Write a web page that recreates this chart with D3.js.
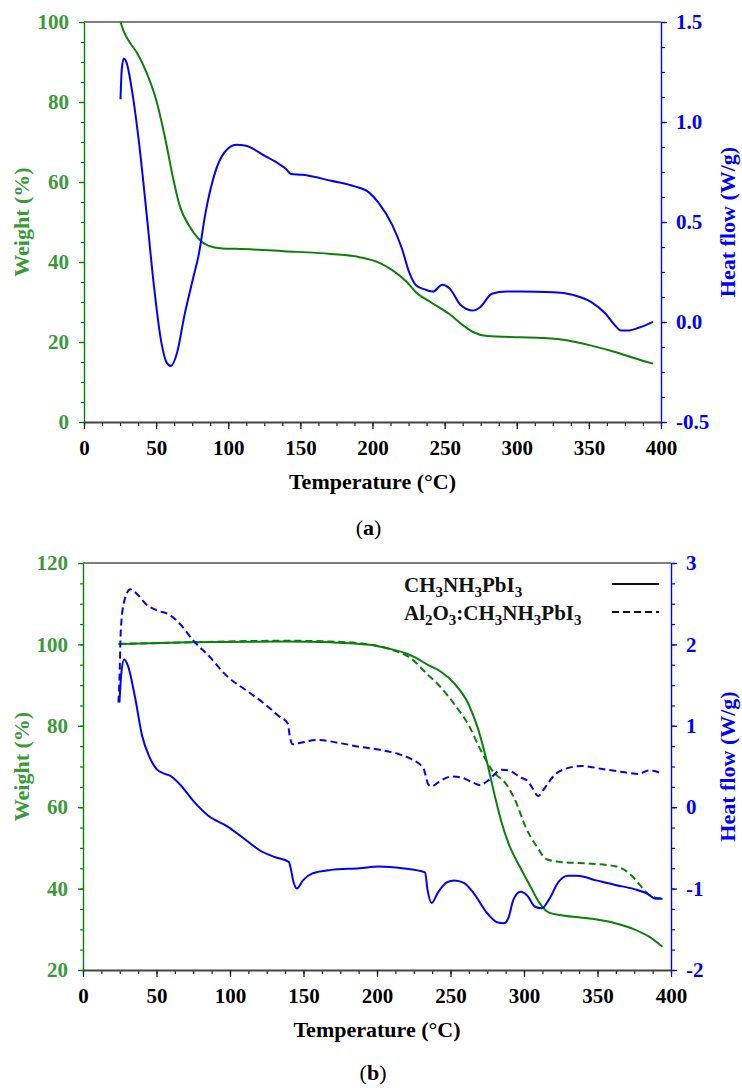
<!DOCTYPE html>
<html>
<head>
<meta charset="utf-8">
<script src="https://cdn.jsdelivr.net/npm/d3@7"></script>
<style>
  html, body { margin: 0; padding: 0; background: #fff; }
  svg text { font-family: "Liberation Serif", "DejaVu Serif", serif; }
</style>
</head>
<body>
<svg id="chart" width="742" height="1088"></svg>
<script>
// ---------- DATA ----------
// Panel (a): temperature (°C) vs weight (%) and heat flow (W/g)
const weightA = [
  [25.3,100],[27.6,97.6],[31,95.3],[36.7,92.3],[43.3,87.4],[49.9,80.7],[56.4,70.7],[61.4,61.6],
  [66.3,54.1],[72.8,49.1],[79.4,45.8],[86,44.1],[95.8,43.4],[105.6,43.3],[138.5,42.7],
  [171.3,42.0],[191,41.2],[204,39.9],[214,37.9],[223.8,35],[230.3,32.4],[240.2,30],
  [253.3,27],[263.1,24.1],[269.7,22.5],[279.5,21.5],[302.5,21.2],[318.9,21],[335.3,20.4],
  [351.7,19.1],[368.1,17.5],[381.2,16],[394.4,14.6]
];
const heatA = [
  [25.3,1.114],[26.2,1.264],[27.6,1.317],[29.5,1.297],[33.5,1.147],[38.4,0.881],[43.3,0.548],
  [48.2,0.199],[53.2,-0.084],[57.1,-0.2],[60.2,-0.22],[64.6,-0.151],[69.6,0.032],[76.1,0.232],
  [79.4,0.332],[84.3,0.548],[90.9,0.748],[97.4,0.848],[105.6,0.886],[112.2,0.881],[125.3,0.831],
  [135.2,0.79],[140.1,0.765],[143.4,0.74],[151.6,0.736],[171.3,0.706],[187.7,0.678],[197.5,0.648],
  [204,0.598],[213.9,0.482],[220.5,0.365],[225.4,0.249],[230.3,0.182],[236.9,0.161],[241.8,0.152],
  [248.4,0.186],[253.3,0.169],[261.5,0.082],[269.7,0.057],[274.6,0.074],[282.8,0.141],[292.7,0.152],
  [302.5,0.152],[325.5,0.149],[338.6,0.136],[351.7,0.099],[361.6,0.041],[368.1,-0.017],[372.1,-0.042],
  [378,-0.042],[384.5,-0.029],[394.4,0.001]
];
// Panel (b)
const weightB_MAPbI3 = [
  [24.8,100.1],[72.4,100.5],[136.8,100.7],[169,100.5],[194.7,99.9],[207.6,99],[220.4,97.7],
  [226.9,96.6],[234.9,94.9],[243,93.4],[252.6,90.4],[262.3,85.3],[268.7,79.3],[275.1,70.7],
  [280,63],[284.8,56.2],[289.6,51],[297.7,45],[304.1,40.7],[310.5,36.5],[317,34.1],[326.6,33.4],
  [346,32.6],[362,31.5],[374.9,30],[384.6,28.3],[394.2,25.7]
];
const weightB_Al2O3 = [
  [24.1,100.1],[72.4,100.5],[136.8,100.9],[169,100.7],[194.7,100],[210.8,98.6],[223.7,96.4],
  [233.3,93],[243,89.6],[252.6,85.3],[262.3,80.2],[270.3,74.2],[278.4,69],[288,65.6],[294.5,61.3],
  [300.9,55.3],[308.9,50.2],[315.4,47.2],[323.4,46.6],[346,46.1],[362,45.5],[371.7,43.7],
  [378.1,41.2],[384.6,38.6],[391,37.7],[394.2,37.7]
];
const heatB_MAPbI3 = [
  [24.8,1.286],[26.1,1.65],[28,1.813],[30.6,1.736],[35.4,1.35],[40.2,0.879],[45.1,0.622],
  [49.9,0.472],[54.7,0.416],[59.5,0.386],[66,0.279],[75.6,0.065],[85.3,-0.106],[98.1,-0.235],
  [111,-0.406],[120.7,-0.535],[130.3,-0.612],[140,-0.672],[141.3,-0.749],[143.2,-0.92],[145.5,-0.998],
  [149.6,-0.899],[156.1,-0.813],[168.9,-0.77],[188.3,-0.749],[201.1,-0.728],[217.2,-0.749],
  [232.7,-0.8],[234.3,-1.006],[237.2,-1.177],[241.4,-1.049],[247.8,-0.92],[252.6,-0.899],
  [259.1,-0.929],[265.5,-1.049],[275.1,-1.306],[281.6,-1.413],[286.4,-1.426],[289.6,-1.349],
  [292.8,-1.135],[297.7,-1.04],[302.5,-1.092],[307.3,-1.22],[312.1,-1.242],[317,-1.135],
  [323.4,-0.92],[329.8,-0.843],[336.3,-0.843],[349.1,-0.899],[362,-0.955],[374.9,-1.006],
  [384.6,-1.07],[389.4,-1.126],[394.2,-1.126]
];
const heatB_Al2O3 = [
  [24.1,1.286],[24.8,1.564],[25.7,2.164],[28,2.528],[32.2,2.678],[37,2.614],[43.4,2.485],
  [49.9,2.421],[59.5,2.357],[66,2.25],[75.6,2.036],[85.3,1.864],[98.1,1.607],[111,1.436],
  [123.9,1.264],[133.5,1.115],[139.3,1.029],[140.6,0.879],[142.6,0.772],[146.4,0.785],
  [159.3,0.827],[175.4,0.785],[188.3,0.742],[201.1,0.708],[214,0.656],[223.7,0.588],[231.7,0.472],
  [234.9,0.279],[237.2,0.258],[243,0.322],[251,0.378],[257.4,0.365],[265.5,0.3],[270.3,0.271],
  [275.1,0.322],[284.8,0.459],[289.6,0.451],[297.7,0.365],[302.5,0.322],[305.7,0.236],
  [309.6,0.138],[313.8,0.228],[320.2,0.386],[328.2,0.472],[339.5,0.506],[352.4,0.472],
  [368.5,0.429],[378.1,0.408],[384.6,0.451],[389.4,0.442],[394.2,0.399]
];
const xTicks = [0,50,100,150,200,250,300,350,400];
const yLeftTicksA = [0,20,40,60,80,100];
const yRightTicksA = [-0.5,0,0.5,1.0,1.5];
const yLeftTicksB = [20,40,60,80,100,120];
const yRightTicksB = [-2,-1,0,1,2,3];
const legendLabels = ["CH3NH3PbI3", "Al2O3:CH3NH3PbI3"];

// ---------- STYLE ----------
const GREEN_LINE = "#0a800a";
const GREEN_TEXT = "#3a9a3a";
const BLUE = "#0000ff";
const FONT = 21;
const TITLE_FONT = 22;

const svg = d3.select("#chart");

function range(a, b, step) {
  const out = [];
  for (let v = a; v <= b + 1e-9; v += step) out.push(+v.toFixed(4));
  return out;
}

function drawPanel(cfg) {
  const g = svg.append("g");
  const x = d3.scaleLinear().domain([0, 400]).range([cfg.left, cfg.right]);
  const yL = d3.scaleLinear().domain(cfg.leftDomain).range([cfg.bottom, cfg.top]);
  const yR = d3.scaleLinear().domain(cfg.rightDomain).range([cfg.bottom, cfg.top]);

  // top frame line
  g.append("line").attr("x1", cfg.left).attr("x2", cfg.right)
    .attr("y1", cfg.top).attr("y2", cfg.top)
    .attr("stroke", "#555").attr("stroke-width", 1.6);

  // bottom axis minor ticks
  const xMinor = range(0, 400, 12.5);
  g.append("g").attr("transform", `translate(0,${cfg.bottom})`)
    .call(d3.axisBottom(x).tickValues(xMinor).tickSize(4).tickFormat(""))
    .call(s => s.select(".domain").remove())
    .call(s => s.selectAll("line").attr("stroke", "#222").attr("stroke-width", 1.2));
  const xAx = g.append("g").attr("transform", `translate(0,${cfg.bottom})`)
    .call(d3.axisBottom(x).tickValues(xTicks).tickSize(7).tickSizeOuter(0).tickPadding(11));
  xAx.select(".domain").attr("stroke", "#444").attr("stroke-width", 1.8);
  xAx.selectAll(".tick line").attr("stroke", "#222").attr("stroke-width", 1.3);
  xAx.selectAll(".tick text").attr("font-size", FONT).attr("font-weight", "bold")
    .attr("fill", "#000").attr("font-family", "Liberation Serif").attr("dy", "0.71em");

  // left axis
  const lMinor = range(cfg.leftDomain[0], cfg.leftDomain[1], 5);
  g.append("g").attr("transform", `translate(${cfg.left},0)`)
    .call(d3.axisLeft(yL).tickValues(lMinor).tickSize(3).tickFormat(""))
    .call(s => s.select(".domain").remove())
    .call(s => s.selectAll("line").attr("stroke", GREEN_LINE).attr("stroke-width", 1.2));
  const lAx = g.append("g").attr("transform", `translate(${cfg.left},0)`)
    .call(d3.axisLeft(yL).tickValues(cfg.leftTicks).tickSize(5).tickSizeOuter(0).tickPadding(10));
  lAx.select(".domain").attr("stroke", GREEN_LINE).attr("stroke-width", 1.4);
  lAx.selectAll(".tick line").attr("stroke", GREEN_LINE).attr("stroke-width", 1.3);
  lAx.selectAll(".tick text").attr("font-size", FONT).attr("font-weight", "bold")
    .attr("fill", GREEN_TEXT).attr("font-family", "Liberation Serif");

  // right axis
  const rMinor = range(cfg.rightDomain[0], cfg.rightDomain[1], cfg.rightMinor);
  g.append("g").attr("transform", `translate(${cfg.right},0)`)
    .call(d3.axisRight(yR).tickValues(rMinor).tickSize(4).tickFormat(""))
    .call(s => s.select(".domain").remove())
    .call(s => s.selectAll("line").attr("stroke", BLUE).attr("stroke-width", 1.2));
  const rAx = g.append("g").attr("transform", `translate(${cfg.right},0)`)
    .call(d3.axisRight(yR).tickValues(cfg.rightTicks).tickSize(6).tickSizeOuter(0)
      .tickPadding(cfg.rightPad).tickFormat(cfg.rightFormat));
  rAx.select(".domain").attr("stroke", BLUE).attr("stroke-width", 1.4);
  rAx.selectAll(".tick line").attr("stroke", BLUE).attr("stroke-width", 1.3);
  rAx.selectAll(".tick text").attr("font-size", FONT).attr("font-weight", "bold")
    .attr("fill", BLUE).attr("font-family", "Liberation Serif");

  // axis titles
  g.append("text").attr("x", (cfg.left + cfg.right) / 2).attr("y", cfg.bottom + 67)
    .attr("text-anchor", "middle").attr("font-size", TITLE_FONT).attr("font-weight", "bold")
    .text("Temperature (°C)");
  const midY = (cfg.top + cfg.bottom) / 2;
  g.append("text").attr("transform", `translate(29,${midY}) rotate(-90)`)
    .attr("text-anchor", "middle").attr("font-size", TITLE_FONT).attr("font-weight", "bold")
    .attr("fill", GREEN_TEXT).text("Weight (%)");
  g.append("text").attr("transform", `translate(735,${midY}) rotate(-90)`)
    .attr("text-anchor", "middle").attr("font-size", TITLE_FONT).attr("font-weight", "bold")
    .attr("fill", BLUE).text("Heat flow (W/g)");

  // caption
  const cap = g.append("text").attr("x", (cfg.left + cfg.right) / 2 - 4).attr("y", cfg.capY)
    .attr("text-anchor", "middle").attr("font-size", TITLE_FONT);
  cap.append("tspan").text("(");
  cap.append("tspan").attr("font-weight", "bold").text(cfg.capLetter);
  cap.append("tspan").text(")");

  // series
  const lineL = d3.line().x(d => x(d[0])).y(d => yL(d[1])).curve(d3.curveMonotoneX);
  const lineR = d3.line().x(d => x(d[0])).y(d => yR(d[1])).curve(d3.curveMonotoneX);
  cfg.series.forEach(s => {
    g.append("path").datum(s.data)
      .attr("d", s.axis === "L" ? lineL : lineR)
      .attr("fill", "none")
      .attr("stroke", s.axis === "L" ? GREEN_LINE : BLUE)
      .attr("stroke-width", 2)
      .attr("stroke-dasharray", s.dashed ? "7,4" : null);
  });
  return g;
}

drawPanel({
  left: 84, right: 661, top: 22, bottom: 422,
  leftDomain: [0, 100], rightDomain: [-0.5, 1.5], rightMinor: 0.125,
  leftTicks: yLeftTicksA, rightTicks: yRightTicksA, rightPad: 9,
  rightFormat: d => d3.format(".1f")(d).replace("−", "-"),
  capY: 535, capLetter: "a",
  series: [
    { data: weightA, axis: "L" },
    { data: heatA, axis: "R" }
  ]
});

const gB = drawPanel({
  left: 83, right: 671, top: 563, bottom: 970,
  leftDomain: [20, 120], rightDomain: [-2, 3], rightMinor: 0.25,
  leftTicks: yLeftTicksB, rightTicks: yRightTicksB, rightPad: 9,
  rightFormat: d => String(d).replace("−", "-"),
  capY: 1080, capLetter: "b",
  series: [
    { data: weightB_MAPbI3, axis: "L" },
    { data: weightB_Al2O3, axis: "L", dashed: true },
    { data: heatB_MAPbI3, axis: "R" },
    { data: heatB_Al2O3, axis: "R", dashed: true }
  ]
});

// legend with chemical subscripts
function chem(textSel, str) {
  const parts = str.match(/[A-Za-z:]+|\d+/g);
  let sub = false;
  parts.forEach(p => {
    if (/^\d+$/.test(p)) {
      textSel.append("tspan").attr("font-size", 15).attr("dy", 5).text(p);
      sub = true;
    } else {
      textSel.append("tspan").attr("dy", sub ? -5 : 0).text(p);
      sub = false;
    }
  });
}
const legY = [592, 620];
legendLabels.forEach((lab, i) => {
  const t = gB.append("text").attr("x", 404).attr("y", legY[i])
    .attr("font-size", FONT).attr("font-weight", "bold").attr("fill", "#111");
  chem(t, lab);
  gB.append("line").attr("x1", 612).attr("x2", 659)
    .attr("y1", legY[i] - 8).attr("y2", legY[i] - 8)
    .attr("stroke", "#111").attr("stroke-width", 2)
    .attr("stroke-dasharray", i === 1 ? "7,4" : null);
});
</script>
</body>
</html>
